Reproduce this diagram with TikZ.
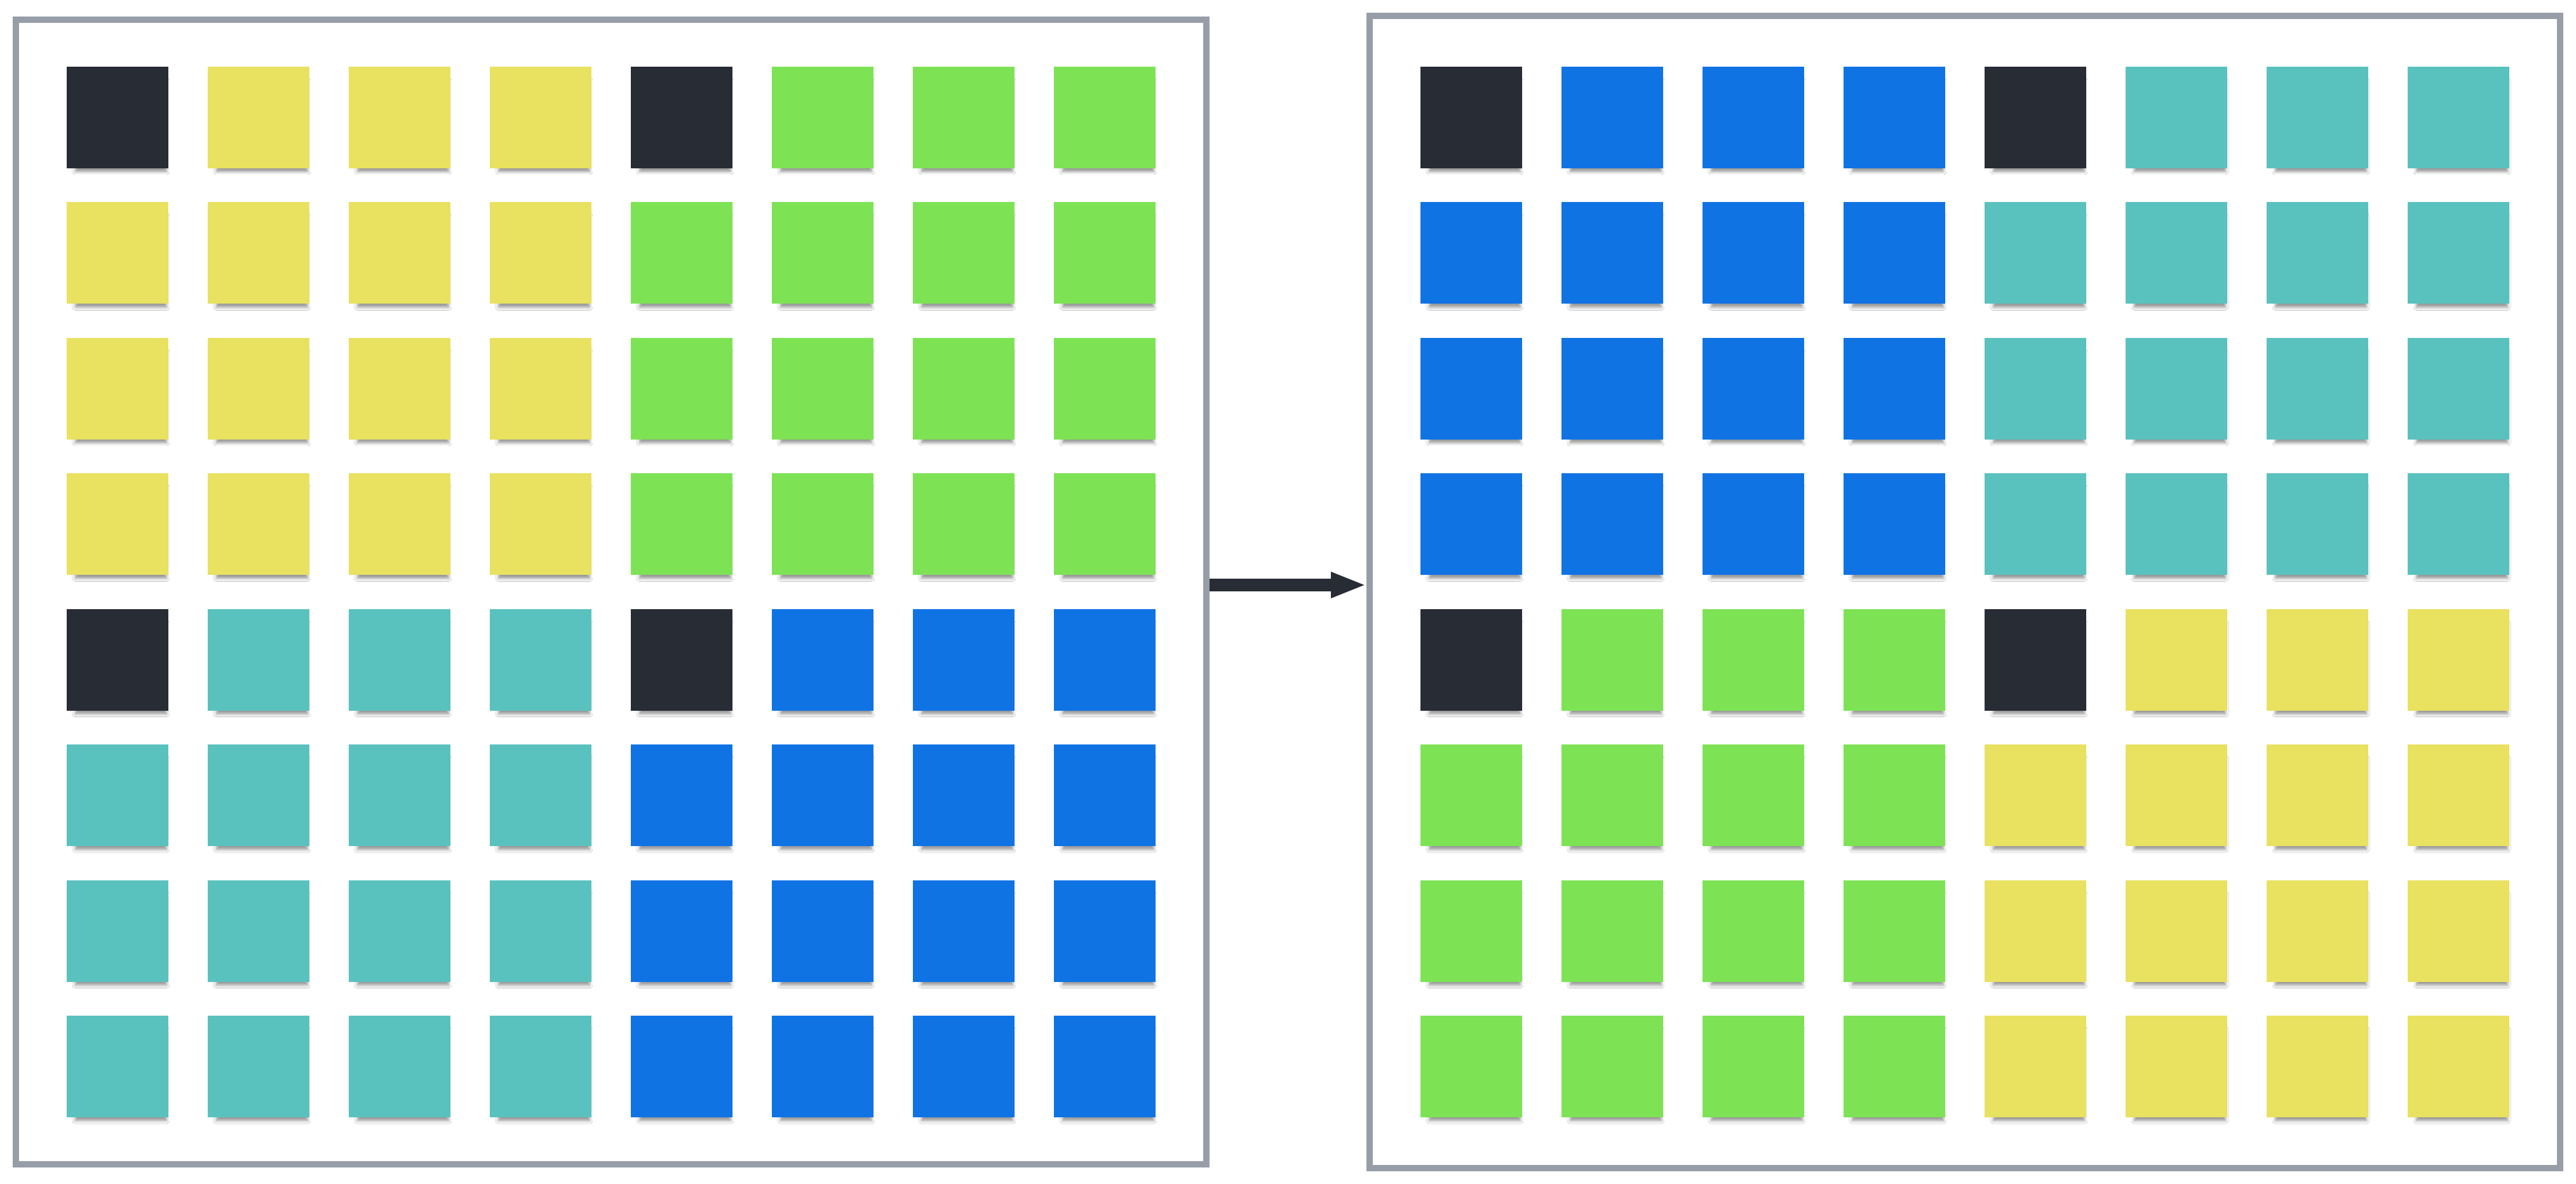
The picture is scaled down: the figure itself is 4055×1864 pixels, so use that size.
\documentclass[tikz,border=0pt]{standalone}
\usepackage{xcolor}
\usepackage{tikz}
\usetikzlibrary{arrows.meta, shadows.blur}

\definecolor{cdark}{HTML}{282C34}
\definecolor{cyel}{HTML}{E9E160}
\definecolor{cgrn}{HTML}{7DE355}
\definecolor{ctea}{HTML}{5AC2BE}
\definecolor{cblu}{HTML}{1073E4}
\definecolor{cfrm}{HTML}{989EA8}

\begin{document}
\begin{tikzpicture}[
  x=0.1mm, y=-0.1mm,
  frm/.style={draw=cfrm, line width=1mm, fill=white, inner sep=0pt},
  cell/.style={rectangle, minimum size=16mm, inner sep=0pt, outer sep=0pt,
    blur shadow={shadow xshift=0.6mm, shadow yshift=-1.5mm, shadow scale=0.9, shadow blur radius=0.5mm, shadow opacity=40}},
  conn/.style={-{Triangle[length=5.6mm, width=3.7mm]}, line width=2mm, draw=cdark}
]
\useasboundingbox (0,0) rectangle (4055,1864);
\node[frm, minimum width=187.4mm, minimum height=180.2mm] (lfr) at (962,932) {};
\node[frm, minimum width=187.4mm, minimum height=181.4mm] (rfr) at (3093,932) {};
% four colour blocks per grid, dark cells at the block corners
\foreach \g/\x/\ca/\cb/\cc/\cd in {l/105/cyel/cgrn/ctea/cblu, r/2236/cblu/ctea/cgrn/cyel}{
  \foreach \r in {0,...,7}{
    \foreach \c in {0,...,7}{
      \pgfmathtruncatemacro\k{((\r==0)||(\r==4))&&((\c==0)||(\c==4)) ? 4 : 2*int(\r/4)+int(\c/4)}
      \edef\col{\ifcase\k \ca\or \cb\or \cc\or \cd\or cdark\fi}
      \node[cell, fill=\col] (\g-\r-\c) at (\x+80+\c*222, 185+\r*213.43) {};
    }
  }
}
\draw[conn] ([yshift=1.1mm]lfr.east) -- ([yshift=1.1mm]rfr.west);
\end{tikzpicture}
\end{document}
